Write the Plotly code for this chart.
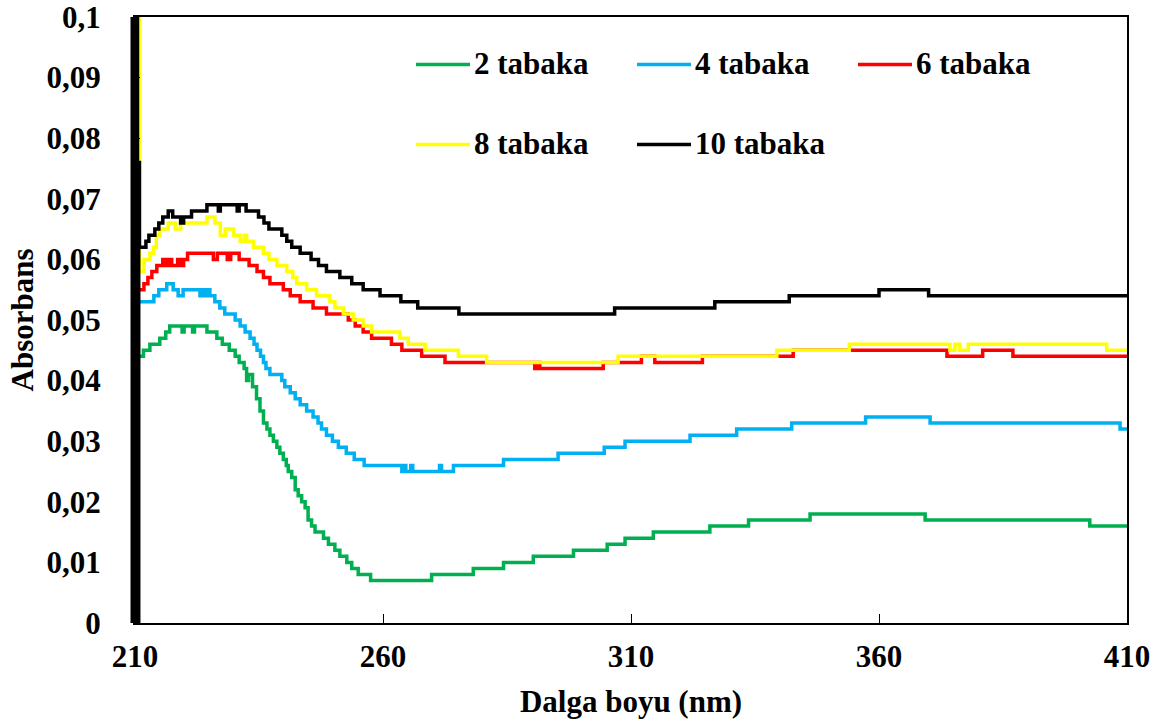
import plotly.graph_objects as go

# Absorbance spectra (step values, change points) for films of 2-10 layers
wl_2 = [210.9, 211.7, 213.0, 215.0, 216.2, 217.0, 219.5, 219.9, 221.6, 222.0, 224.5, 226.5,
        227.6, 229.0, 230.2, 231.0, 232.0, 232.5, 232.9, 233.7, 234.5, 235.2, 235.9, 236.6,
        237.2, 237.9, 238.6, 239.2, 239.9, 240.5, 240.9, 241.6, 242.3, 242.9, 243.6, 244.3,
        244.9, 245.6, 246.3, 248.0, 249.0, 250.3, 251.3, 252.7, 253.7, 255.0, 257.5, 269.8,
        278.2, 284.3, 290.3, 298.4, 305.2, 308.8, 314.5, 325.9, 333.7, 346.1, 369.3, 402.5, 410.0]
abs_2 = [0.044, 0.045, 0.046, 0.047, 0.048, 0.049, 0.048, 0.049, 0.048, 0.049, 0.048, 0.047,
         0.046, 0.045, 0.044, 0.043, 0.042, 0.040, 0.041, 0.039, 0.037, 0.035, 0.033, 0.032,
         0.031, 0.030, 0.029, 0.028, 0.027, 0.026, 0.025, 0.024, 0.022, 0.021, 0.020, 0.019,
         0.017, 0.016, 0.015, 0.014, 0.013, 0.012, 0.011, 0.010, 0.009, 0.008, 0.007, 0.008,
         0.009, 0.010, 0.011, 0.012, 0.013, 0.014, 0.015, 0.016, 0.017, 0.018, 0.017, 0.016, 0.016]

wl_4 = [210.9, 213.8, 214.8, 216.4, 217.7, 218.7, 219.7, 223.1, 223.5, 224.2, 224.6, 225.1,
        226.1, 227.1, 228.1, 230.2, 231.2, 232.2, 233.2, 234.0, 234.6, 235.3, 235.9, 236.4,
        237.2, 239.6, 240.2, 241.3, 242.3, 243.3, 244.6, 245.9, 246.9, 247.6, 248.6, 249.8,
        251.0, 252.6, 254.2, 256.2, 263.8, 264.2, 264.6, 265.6, 266.0, 271.4, 271.8, 274.2,
        284.3, 295.3, 304.6, 308.8, 321.9, 331.3, 342.4, 357.3, 370.3, 408.6, 410.0]
abs_4 = [0.053, 0.054, 0.055, 0.056, 0.055, 0.054, 0.055, 0.054, 0.055, 0.054, 0.055, 0.054,
         0.053, 0.052, 0.051, 0.050, 0.049, 0.048, 0.047, 0.046, 0.045, 0.044, 0.043, 0.042,
         0.041, 0.040, 0.039, 0.038, 0.037, 0.036, 0.035, 0.034, 0.033, 0.032, 0.031, 0.030,
         0.029, 0.028, 0.027, 0.026, 0.025, 0.026, 0.025, 0.026, 0.025, 0.026, 0.025, 0.026,
         0.027, 0.028, 0.029, 0.030, 0.031, 0.032, 0.033, 0.034, 0.033, 0.032, 0.032]

wl_6 = [210.9, 211.8, 212.6, 213.4, 214.4, 215.6, 216.2, 216.8, 217.4, 218.6, 219.2, 219.8,
        220.6, 225.8, 226.6, 228.6, 229.3, 231.0, 233.0, 234.6, 235.9, 237.2, 239.9, 241.3,
        243.3, 245.9, 248.6, 253.0, 254.4, 256.0, 257.7, 261.7, 263.8, 267.8, 272.5, 290.6,
        291.2, 291.6, 304.4, 312.1, 314.8, 324.4, 342.7, 373.7, 380.9, 387.0, 410.0]
abs_6 = [0.055, 0.056, 0.057, 0.058, 0.059, 0.060, 0.059, 0.060, 0.059, 0.060, 0.059, 0.060,
         0.061, 0.060, 0.061, 0.060, 0.061, 0.060, 0.059, 0.058, 0.057, 0.056, 0.055, 0.054,
         0.053, 0.052, 0.051, 0.050, 0.049, 0.048, 0.047, 0.046, 0.045, 0.044, 0.043, 0.042,
         0.043, 0.042, 0.043, 0.044, 0.043, 0.044, 0.045, 0.044, 0.045, 0.044, 0.044]

wl_8 = [210.6, 210.9, 211.8, 213.0, 213.7, 214.3, 215.0, 216.7, 218.1, 219.2, 224.5, 226.1,
        227.2, 228.2, 229.9, 231.2, 232.0, 232.5, 233.9, 235.9, 237.0, 238.6, 240.6, 241.8,
        242.6, 244.6, 246.6, 249.3, 250.3, 252.0, 254.0, 256.0, 257.7, 263.4, 265.1, 268.5,
        275.2, 280.9, 307.4, 339.4, 354.0, 374.3, 375.3, 376.3, 378.0, 405.9, 410.0]
abs_8 = [0.1, 0.058, 0.060, 0.061, 0.062, 0.064, 0.065, 0.066, 0.065, 0.066, 0.067, 0.066,
         0.064, 0.065, 0.064, 0.063, 0.064, 0.063, 0.062, 0.061, 0.060, 0.059, 0.058, 0.057,
         0.056, 0.055, 0.054, 0.053, 0.052, 0.051, 0.050, 0.049, 0.048, 0.047, 0.046, 0.045,
         0.044, 0.043, 0.044, 0.045, 0.046, 0.045, 0.046, 0.045, 0.046, 0.045, 0.045]

wl_10 = [210.0, 210.25, 210.5, 210.75, 210.9, 212.2, 212.8, 214.0, 214.8, 215.6, 216.7, 217.6,
         219.2, 219.8, 221.4, 224.5, 226.8, 227.2, 230.6, 231.0, 232.4, 234.9, 236.0, 237.0,
         239.6, 240.6, 241.6, 243.3, 245.5, 247.0, 248.6, 251.3, 253.7, 256.0, 259.4, 263.6,
         267.0, 275.3, 306.7, 326.9, 341.9, 360.0, 370.0, 410.0]
abs_10 = [0.0, 0.1, 0.0, 0.076, 0.062, 0.063, 0.064, 0.065, 0.066, 0.067, 0.068, 0.067,
          0.066, 0.067, 0.068, 0.069, 0.068, 0.069, 0.068, 0.069, 0.068, 0.067, 0.066, 0.065,
          0.064, 0.063, 0.062, 0.061, 0.060, 0.059, 0.058, 0.057, 0.056, 0.055, 0.054, 0.053,
          0.052, 0.051, 0.052, 0.053, 0.054, 0.055, 0.054, 0.054]

series_names = ["2 tabaka", "4 tabaka", "6 tabaka", "8 tabaka", "10 tabaka"]
series_colors = ["#00B050", "#00B0F0", "#FF0000", "#FFFF00", "#000000"]
series_x = [wl_2, wl_4, wl_6, wl_8, wl_10]
series_y = [abs_2, abs_4, abs_6, abs_8, abs_10]

x_tick_vals = [210, 260, 310, 360, 410]
y_tick_vals = [0, 0.01, 0.02, 0.03, 0.04, 0.05, 0.06, 0.07, 0.08, 0.09, 0.1]
y_tick_text = ["0", "0,01", "0,02", "0,03", "0,04", "0,05", "0,06", "0,07", "0,08", "0,09", "0,1"]

FONT = "Liberation Serif, Times New Roman, serif"

fig = go.Figure()
for name, color, xs, ys in zip(series_names, series_colors, series_x, series_y):
    fig.add_trace(go.Scatter(
        x=xs, y=ys, name=name, mode="lines", line_shape="hv",
        line=dict(color=color, width=3.5), showlegend=False,
    ))

# Plot area in pixels (used for the hand-built legend and the left frame edge)
W, H = 1160, 726
L, R, T, B = 135, 33, 17, 103
pw, ph = W - L - R, H - T - B


def px_x(px):
    return (px - L) / pw


def px_y(py):
    return (H - B - py) / ph


shapes = [dict(type="line", xref="paper", yref="paper", x0=px_x(133), x1=px_x(133),
               y0=0, y1=1, line=dict(color="black", width=5))]
annotations = []
legend_cols = [416, 637, 858]
legend_rows = [64.5, 144.5]
for i, (name, color) in enumerate(zip(series_names, series_colors)):
    cx = legend_cols[i % 3]
    cy = legend_rows[i // 3]
    shapes.append(dict(type="line", xref="paper", yref="paper",
                       x0=px_x(cx), x1=px_x(cx + 54), y0=px_y(cy), y1=px_y(cy),
                       line=dict(color=color, width=3.5)))
    annotations.append(dict(xref="paper", yref="paper", x=px_x(cx + 56), y=px_y(cy - 1),
                            text=name, showarrow=False, xanchor="left", yanchor="middle",
                            font=dict(family=FONT, size=31, color="black", weight="bold")))

fig.update_layout(
    width=W, height=H,
    margin=dict(l=L, r=R, t=T, b=B),
    paper_bgcolor="white", plot_bgcolor="white",
    font=dict(family=FONT, size=31, color="black", weight="bold"),
    shapes=shapes, annotations=annotations,
    xaxis=dict(
        range=[210, 410], tickvals=x_tick_vals, ticks="inside", ticklen=9, tickwidth=1,
        tickcolor="black", showline=True, linecolor="black", linewidth=2, mirror=True,
        showgrid=False, zeroline=False, automargin=False, ticklabelstandoff=5,
        ticklabeloverflow="allow",
        tickfont=dict(family=FONT, size=31, color="black", weight="bold"),
        title=dict(text="Dalga boyu (nm)", standoff=17,
                   font=dict(family=FONT, size=31, color="black", weight="bold")),
    ),
    yaxis=dict(
        range=[0, 0.1], tickvals=y_tick_vals, ticktext=y_tick_text, ticks="inside",
        ticklen=5, tickwidth=1, tickcolor="black", showline=True, linecolor="black",
        linewidth=2, mirror=True, showgrid=False, zeroline=False, automargin=False,
        ticklabelstandoff=26, ticklabeloverflow="allow",
        tickfont=dict(family=FONT, size=31, color="black", weight="bold"),
        title=dict(text="Absorbans", standoff=4,
                   font=dict(family=FONT, size=31, color="black", weight="bold")),
    ),
)

fig.write_html("out.html")
